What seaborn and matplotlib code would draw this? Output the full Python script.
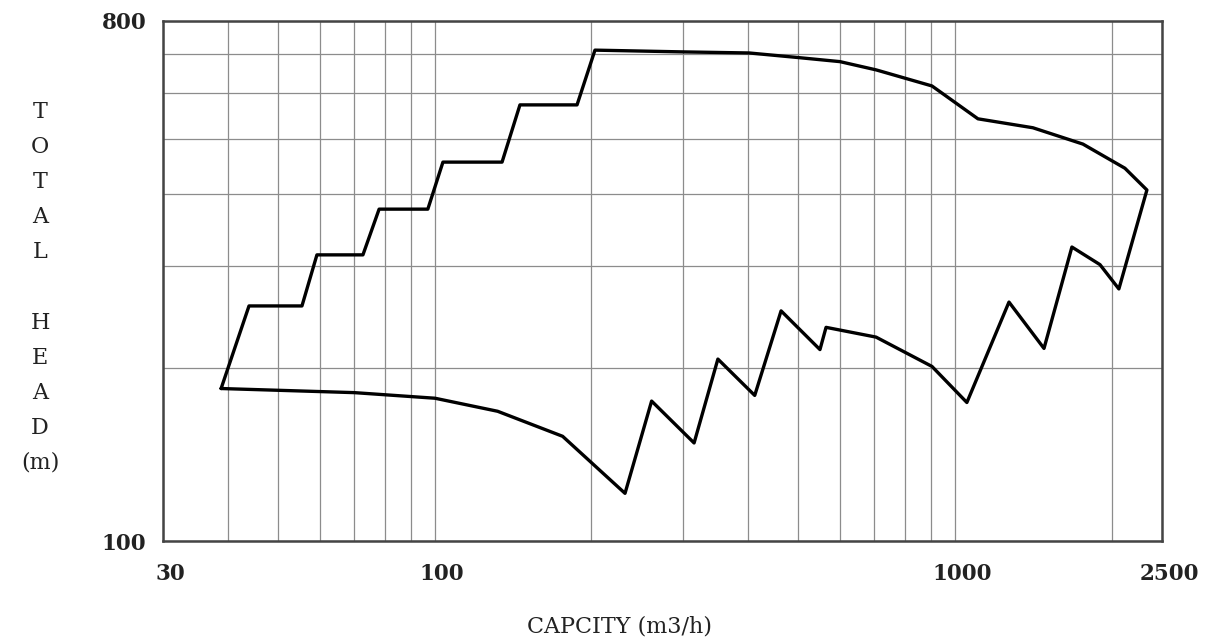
import matplotlib
matplotlib.use("Agg")
import matplotlib.pyplot as plt
import matplotlib.transforms as mtransforms
from matplotlib.ticker import FixedLocator, NullFormatter, FixedFormatter
import pandas as pd
import seaborn as sns

# Pump performance range (closed envelope)
capacity = [38.8, 43.9, 55.5, 59.3, 72.7, 78.1, 96.9, 103.6, 134.6, 145.7, 187.6, 203.1,
            300, 402, 501, 601, 705, 903, 1107, 1412, 1762, 2122, 2339,
            2066, 1900, 1678, 1483, 1270, 1054, 903, 705, 565, 550, 463, 412, 350,
            315, 261, 232, 176, 132, 100, 70, 38.8]
head = [184, 256, 256, 314, 314, 377, 377, 455, 455, 572, 572, 712,
        707, 704, 691, 680, 658, 617, 541, 522, 489, 444, 407,
        274, 302, 324, 216, 260, 174, 201, 226, 235, 215, 251, 179, 207,
        148, 175, 121, 152, 168, 177, 181, 184]

x_ticks = [30, 100, 1000, 2500]
x_grid = [40, 50, 60, 70, 80, 90, 200, 300, 400, 500, 600, 700, 800, 900, 2000]
y_ticks = [100, 800]
y_grid = [200, 300, 400, 500, 600, 700]

sns.set_theme(style="white")
plt.rcParams["font.family"] = ["DejaVu Serif"]

df = pd.DataFrame({"capacity": capacity, "head": head})

fig = plt.figure(figsize=(12.12, 6.42), dpi=100)
ax = fig.add_axes([0.1345, 0.1573, 0.8242, 0.81])

sns.lineplot(data=df, x="capacity", y="head", sort=False, estimator=None,
             color="black", linewidth=2.4, ax=ax)

ax.set_xscale("log")
ax.set_yscale("log")
ax.set_xlim(30, 2500)
ax.set_ylim(100, 800)

ax.xaxis.set_major_locator(FixedLocator(x_ticks))
ax.xaxis.set_major_formatter(FixedFormatter([str(v) for v in x_ticks]))
ax.xaxis.set_minor_locator(FixedLocator(x_grid))
ax.xaxis.set_minor_formatter(NullFormatter())
ax.yaxis.set_major_locator(FixedLocator(y_ticks))
ax.yaxis.set_major_formatter(FixedFormatter([str(v) for v in y_ticks]))
ax.yaxis.set_minor_locator(FixedLocator(y_grid))
ax.yaxis.set_minor_formatter(NullFormatter())

ax.grid(which="both", color="#8c8c8c", linewidth=0.9)
ax.tick_params(which="both", length=0)
ax.tick_params(axis="x", pad=16, labelsize=15.5)
ax.tick_params(axis="y", pad=12, labelsize=15.5)
for lab in ax.get_xticklabels() + ax.get_yticklabels():
    lab.set_fontweight("bold")
    lab.set_color("#222222")
# shift x labels a touch right like the original
offset = mtransforms.ScaledTranslation(7 / 100, 0, fig.dpi_scale_trans)
for lab in ax.get_xticklabels():
    lab.set_transform(lab.get_transform() + offset)

for sp in ax.spines.values():
    sp.set_color("#444444")
    sp.set_linewidth(1.8)

ax.set_xlabel("CAPCITY (m3/h)", fontsize=16, color="#222222", va="center")
ax.xaxis.set_label_coords(0.457, -0.165)
ax.set_ylabel("T\nO\nT\nA\nL\n\nH\nE\nA\nD\n(m)", rotation=0, fontsize=16,
              color="#222222", linespacing=1.77, va="center", ha="center")
ax.yaxis.set_label_coords(-0.123, 0.4875)

fig.savefig("out.png", dpi=100)
